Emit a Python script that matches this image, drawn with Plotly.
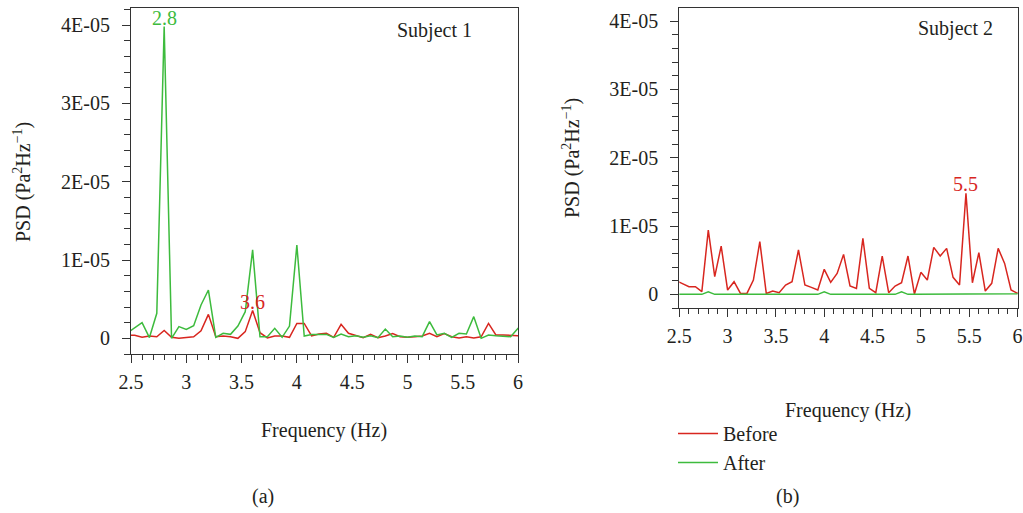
import plotly.graph_objects as go

# Frequency bins (Hz), spacing 1/15 Hz
freq = [2.4667, 2.5333, 2.6000, 2.6667, 2.7333, 2.8000, 2.8667, 2.9333, 3.0000, 3.0667,
        3.1333, 3.2000, 3.2667, 3.3333, 3.4000, 3.4667, 3.5333, 3.6000, 3.6667, 3.7333,
        3.8000, 3.8667, 3.9333, 4.0000, 4.0667, 4.1333, 4.2000, 4.2667, 4.3333, 4.4000,
        4.4667, 4.5333, 4.6000, 4.6667, 4.7333, 4.8000, 4.8667, 4.9333, 5.0000, 5.0667,
        5.1333, 5.2000, 5.2667, 5.3333, 5.4000, 5.4667, 5.5333, 5.6000, 5.6667, 5.7333,
        5.8000, 5.8667, 5.9333, 6.0000, 6.0667]

# PSD values in units of 1E-06 Pa^2/Hz
s1_before = [0.40, 0.40, 0.13, 0.30, 0.20, 1.00, 0.13, 0.00, 0.10, 0.20,
             0.95, 3.06, 0.20, 0.30, 0.20, 0.00, 0.85, 3.55, 0.72, 0.05,
             0.30, 0.30, 0.13, 1.90, 1.90, 0.30, 0.55, 0.64, 0.13, 1.79,
             0.64, 0.40, 0.08, 0.50, 0.08, 0.30, 0.60, 0.20, 0.13, 0.20,
             0.30, 0.64, 0.20, 0.60, 0.20, 0.05, 0.20, 0.05, 0.20, 1.90,
             0.43, 0.43, 0.34, 0.34, 0.30]
s1_after = [0.70, 1.40, 2.00, 0.10, 3.20, 39.80, 0.00, 1.50, 1.15, 1.62,
            4.26, 6.17, 0.13, 0.64, 0.51, 1.57, 3.40, 11.30, 0.20, 0.20,
            1.28, 0.13, 1.57, 11.90, 0.29, 0.50, 0.50, 0.50, 0.10, 0.55,
            0.21, 0.34, 0.13, 0.34, 0.08, 1.19, 0.21, 0.30, 0.13, 0.30,
            0.21, 2.13, 0.43, 0.64, 0.13, 0.64, 0.55, 2.77, 0.00, 0.43,
            0.34, 0.30, 0.21, 1.28, 1.80]
s2_before = [2.00, 1.51, 1.12, 1.12, 0.39, 9.41, 2.58, 7.07, 0.63, 1.85,
             0.14, 0.14, 2.09, 7.71, 0.14, 0.48, 0.24, 1.36, 1.85, 6.49,
             1.36, 1.02, 0.63, 3.66, 1.75, 3.07, 5.85, 1.22, 0.87, 8.19,
             0.87, 0.24, 5.61, 0.24, 1.22, 1.70, 5.61, 0.04, 3.22, 2.09,
             6.88, 5.61, 6.73, 2.49, 1.36, 14.80, 1.70, 6.10, 0.48, 1.61,
             6.73, 4.53, 0.63, 0.14, 1.50]
s2_after = [0.00, 0.00, 0.00, 0.00, 0.00, 0.38, 0.00, 0.00, 0.00, 0.00,
            0.00, 0.00, 0.00, 0.00, 0.00, 0.00, 0.00, 0.00, 0.00, 0.00,
            0.00, 0.00, 0.00, 0.38, 0.00, 0.00, 0.00, 0.00, 0.00, 0.10,
            0.00, 0.00, 0.00, 0.00, 0.00, 0.38, 0.00, 0.00, 0.00, 0.00,
            0.00, 0.00, 0.00, 0.00, 0.00, 0.00, 0.00, 0.10, 0.00, 0.00,
            0.00, 0.00, 0.00, 0.10, 0.20]

y_tick_vals = [0, 1e-5, 2e-5, 3e-5, 4e-5]
y_tick_text = ["0", "1E-05", "2E-05", "3E-05", "4E-05"]
x_tick_vals = [2.5, 3, 3.5, 4, 4.5, 5, 5.5, 6]
x_tick_text = ["2.5", "3", "3.5", "4", "4.5", "5", "5.5", "6"]

RED = "#d8261f"
GREEN = "#3dbb3d"
INK = "#231f20"
FONT = "Liberation Serif"
W, H = 1023, 513


def scaled(vals):
    return [v * 1e-6 for v in vals]


def px(x):
    return x / W


def py(y):
    return 1 - y / H


fig = go.Figure()

fig.add_trace(go.Scatter(x=freq, y=scaled(s1_before), mode="lines", name="Before",
                         line=dict(color=RED, width=1.5),
                         xaxis="x", yaxis="y"))
fig.add_trace(go.Scatter(x=freq, y=scaled(s1_after), mode="lines", name="After",
                         line=dict(color=GREEN, width=1.5),
                         xaxis="x", yaxis="y"))
fig.add_trace(go.Scatter(x=freq, y=scaled(s2_before), mode="lines", name="Before",
                         line=dict(color=RED, width=1.5),
                         showlegend=False, xaxis="x2", yaxis="y2"))
fig.add_trace(go.Scatter(x=freq, y=scaled(s2_after), mode="lines", name="After",
                         line=dict(color=GREEN, width=1.5),
                         showlegend=False, xaxis="x2", yaxis="y2"))

axis_common = dict(
    showgrid=False, zeroline=False, showline=True, linecolor="#333333", linewidth=1.2,
    mirror=True, ticks="outside", ticklen=8, tickwidth=1, tickcolor="#333333",
    tickfont=dict(family=FONT, size=20, color=INK), automargin=False,
)
x_common = dict(axis_common, range=[2.5, 6], tickvals=x_tick_vals, ticktext=x_tick_text,
                minor=dict(dtick=0.1, tick0=2.5, ticks="outside", ticklen=5,
                           tickcolor="#333333", showgrid=False),
                ticklabelstandoff=2)
y_common = dict(axis_common, tickvals=y_tick_vals, ticktext=y_tick_text,
                minor=dict(dtick=2e-6, tick0=0, ticks="outside", ticklen=6,
                           tickcolor="#333333", showgrid=False),
                ticklabelstandoff=8)

fig.update_layout(
    width=W, height=H,
    margin=dict(l=0, r=0, t=0, b=0, autoexpand=False),
    paper_bgcolor="white", plot_bgcolor="white",
    font=dict(family=FONT, size=20, color=INK),
    xaxis=dict(x_common, domain=[px(131), px(518)], anchor="y"),
    yaxis=dict(y_common, domain=[py(354), py(8)], range=[-2.0e-6, 4.218e-5], anchor="x"),
    xaxis2=dict(x_common, domain=[px(679.3), px(1017.5)], anchor="y2"),
    yaxis2=dict(y_common, domain=[py(308), py(8)], range=[-2.0e-6, 4.192e-5], anchor="x2"),
    legend=dict(x=px(673), y=py(414), xanchor="left", yanchor="top",
                font=dict(family=FONT, size=20, color=INK),
                bgcolor="rgba(0,0,0,0)", itemwidth=40, tracegroupgap=0),
    showlegend=True,
)

title_y = "PSD (Pa<sup>2</sup>Hz<sup>−1</sup>)"
annotations = [
    # axis titles
    dict(text=title_y, x=px(22), y=py(182), textangle=-90),
    dict(text=title_y, x=px(571), y=py(158), textangle=-90),
    dict(text="Frequency (Hz)", x=px(324), y=py(430)),
    dict(text="Frequency (Hz)", x=px(848), y=py(410)),
    # panel labels
    dict(text="Subject 1", x=px(434), y=py(31)),
    dict(text="Subject 2", x=px(955), y=py(28)),
    dict(text="(a)", x=px(263), y=py(496)),
    dict(text="(b)", x=px(787), y=py(496)),
]
for a in annotations:
    a.update(xref="paper", yref="paper", showarrow=False,
             xanchor="center", yanchor="middle",
             font=dict(family=FONT, size=20, color=INK))
    fig.add_annotation(**a)

# peak frequency labels
peaks = [
    ("x", "y", freq, s1_after, 2.8, GREEN),
    ("x", "y", freq, s1_before, 3.6, RED),
    ("x2", "y2", freq, s2_before, 5.4667, RED),
]
for xr, yr, fx, vals, f0, col in peaks:
    i = min(range(len(fx)), key=lambda j: abs(fx[j] - f0))
    fig.add_annotation(x=fx[i], y=vals[i] * 1e-6, xref=xr, yref=yr,
                       text=f"{round(fx[i], 1)}", showarrow=False,
                       xanchor="center", yanchor="bottom", yshift=-4,
                       font=dict(family=FONT, size=20, color=col))

fig.write_html("out.html")
